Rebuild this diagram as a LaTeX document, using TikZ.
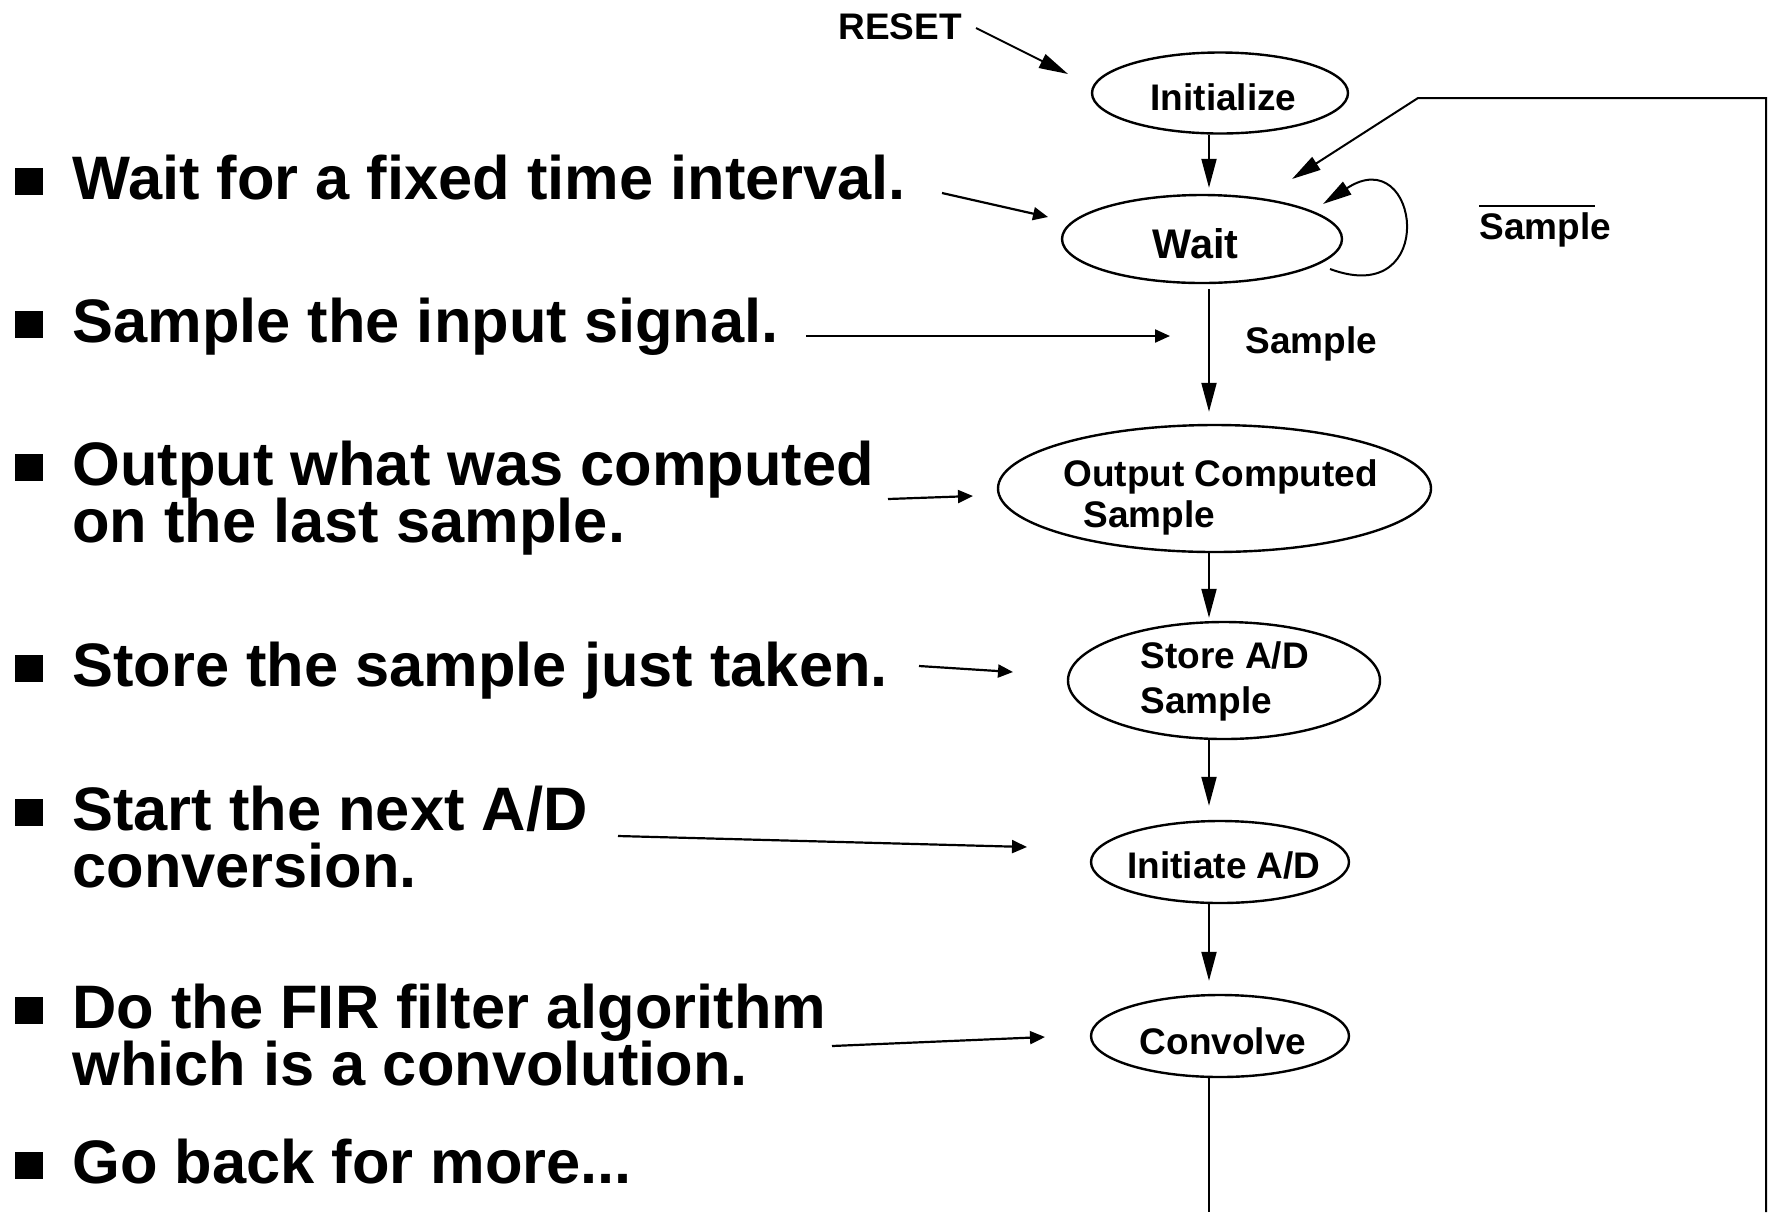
\documentclass[tikz,border=0pt]{standalone}
\usepackage{fontspec}
\setmainfont{Liberation Sans}
\usetikzlibrary{arrows.meta,shapes.geometric}

\begin{document}
\begin{tikzpicture}[x=0.5pt,y=-0.5pt,
  stt/.style={ellipse, draw, line width=1.2pt, inner sep=0pt},
  lbl/.style={inner sep=0pt, font=\fontsize{18.5}{20}\selectfont\bfseries},
  bullettext/.style={inner sep=0pt, anchor=base west, font=\fontsize{30.7}{28}\selectfont\bfseries},
  bulletmark/.style={fill, draw=none, inner sep=0pt, minimum size=13.75pt},
  flow/.style={line width=1pt, -{Triangle[length=14.5pt,width=7.5pt]}},
  ptr/.style={line width=1.1pt, -{Triangle[length=7.5pt,width=6.5pt]}},
  wire/.style={line width=1pt}]

\fill[white] (0,0) rectangle (1768,1212);
\useasboundingbox (0,0) rectangle (1768,1212);

% ---- states of the controller ----
\node[stt, minimum width=128pt,   minimum height=40.5pt] (init)   at (1220,93)     {};
\node[stt, minimum width=140pt,   minimum height=44pt]   (wait)   at (1202,239)    {};
\node[stt, minimum width=216.5pt, minimum height=63.5pt] (out)    at (1214.5,488.5) {};
\node[stt, minimum width=156pt,   minimum height=58.5pt] (store)  at (1224,680.5)  {};
\node[stt, minimum width=129pt,   minimum height=41pt]   (initad) at (1220,862)    {};
\node[stt, minimum width=129pt,   minimum height=41pt]   (conv)   at (1220,1036)   {};

% ---- state names ----
\node[lbl, anchor=base] (initT) at (1223.5,110) {Initialize};
\node[lbl, anchor=base, font=\fontsize{20.7}{22}\selectfont\bfseries] (waitT) at (1195.5,258) {Wait};
\node[lbl, anchor=base west] (outT1)   at (1063,486) {Output Computed};
\node[lbl, anchor=base west] (outT2)   at (1083,527) {Sample};
\node[lbl, anchor=base west] (storeT1) at (1140,668) {Store A/D};
\node[lbl, anchor=base west] (storeT2) at (1140,713) {Sample};
\node[lbl, anchor=base] (initadT) at (1224,878)  {Initiate A/D};
\node[lbl, anchor=base] (convT)   at (1223,1054) {Convolve};

% ---- transition labels ----
\node[lbl, anchor=base west] (reset) at (838,39)   {RESET};
\node[lbl, anchor=base west] (cond)  at (1245,353) {Sample};
\node[lbl, anchor=base west] (ncond) at (1479,239) {Sample};
\draw[wire] ([shift={(0,-33)}]ncond.base west) -- ++(116,0);

% ---- helper points ----
\coordinate (spine)   at (1209,0);
\coordinate (exit)    at (1209,1212);
\coordinate (rb)      at (1766,1212);
\coordinate (corner)  at (1418,98);
\coordinate (backtip) at (1292,179);
\coordinate (resetS)  at (976,28);
\coordinate (resetE)  at (1068,74);

% ---- main sequence ----
\draw[flow, shorten >=3pt] (init.south -| spine) -- (wait.north -| spine);
\draw[flow, shorten <=2.5pt, shorten >=6pt] (wait.south -| spine) -- (out.north -| spine);
\draw[flow, shorten >=1.5pt] (out.south -| spine) -- (store.north -| spine);
\draw[flow, shorten >=7pt] (store.south -| spine) -- (initad.north -| spine);
\draw[flow, shorten >=6.5pt] (initad.south -| spine) -- (conv.north -| spine);
\draw[wire] (conv.south -| spine) -- (exit);

% ---- return path and reset ----
\draw[flow] (rb) |- (corner) -- (backtip);
\draw[flow] (resetS) -- (resetE);

% ---- wait self-loop ----
\draw[flow] ([shift={(128,30)}]wait.center) .. controls +(110,41) and +(97,-64) .. ([shift={(121,-35)}]wait.center);

% ---- bullet list ----
\node[bulletmark] (m1) at (29,181.5) {};
\node[bullettext] (t1) at (72,199)  {Wait for a fixed time interval.};
\node[bulletmark] (m2) at (29,324.5) {};
\node[bullettext] (t2) at (72,342)  {Sample the input signal.};
\node[bulletmark] (m3) at (29,467.5) {};
\node[bullettext] (t3a) at (72,485) {Output what was computed};
\node[bullettext] (t3b) at (72,542) {on the last sample.};
\node[bulletmark] (m4) at (29,668.5) {};
\node[bullettext] (t4) at (72,686)  {Store the sample just taken.};
\node[bulletmark] (m5) at (29,812.5) {};
\node[bullettext] (t5a) at (72,830) {Start the next A/D};
\node[bullettext] (t5b) at (72,887) {conversion.};
\node[bulletmark] (m6) at (29,1010.5) {};
\node[bullettext] (t6a) at (72,1028) {Do the FIR filter algorithm};
\node[bullettext] (t6b) at (72,1085) {which is a convolution.};
\node[bulletmark] (m7) at (29,1165.5) {};
\node[bullettext] (t7) at (72,1183) {Go back for more...};

% ---- pointers from the list to the states ----
\coordinate (p1s) at (942,193);  \coordinate (p1e) at (1048,217);
\coordinate (p2s) at (806,336);  \coordinate (p2e) at (1170,336);
\coordinate (p3s) at (888,499);  \coordinate (p3e) at (973,496);
\coordinate (p4s) at (919,666);  \coordinate (p4e) at (1013,672);
\coordinate (p5s) at (618,836);  \coordinate (p5e) at (1027,847);
\coordinate (p6s) at (832,1046); \coordinate (p6e) at (1045,1037);
\draw[ptr] (p1s) -- (p1e);
\draw[ptr] (p2s) -- (p2e);
\draw[ptr] (p3s) -- (p3e);
\draw[ptr] (p4s) -- (p4e);
\draw[ptr] (p5s) -- (p5e);
\draw[ptr] (p6s) -- (p6e);

\end{tikzpicture}
\end{document}
